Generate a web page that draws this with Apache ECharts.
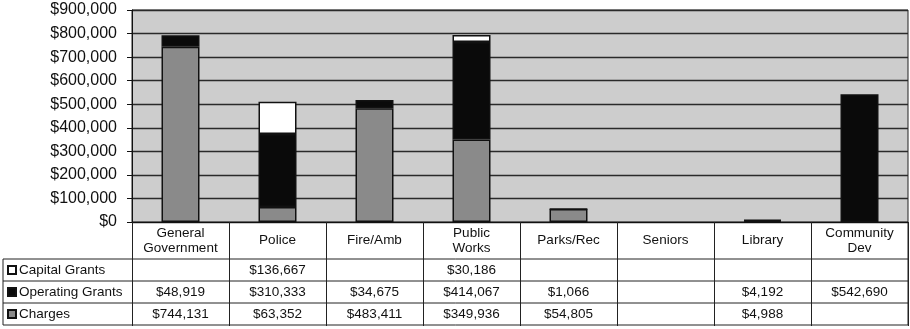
<!DOCTYPE html>
<html><head><meta charset="utf-8">
<script src="https://cdn.jsdelivr.net/npm/echarts@6/dist/echarts.min.js"></script>
<style>html,body{margin:0;padding:0;background:#fff}#c{width:910px;height:329px}</style>
</head><body><div id="c"></div>
<script>
const categories = ['General\nGovernment','Police','Fire/Amb','Public\nWorks','Parks/Rec','Seniors','Library','Community\nDev'];
const capitalGrants = [null,136667,null,30186,null,null,null,null];
const operatingGrants = [48919,310333,34675,414067,1066,null,4192,542690];
const charges = [744131,63352,483411,349936,54805,null,4988,null];
const yTicks = [0,100000,200000,300000,400000,500000,600000,700000,800000,900000];

const FONT = '"Liberation Sans", Arial, sans-serif';
const TFS = 13.5;
const fmt = v => (v == null ? '' : '$' + v.toLocaleString('en-US'));
const G = {left:132, right:2, top:10, bottom:107};
const rowH = 22, headH = 37;

const chart = echarts.init(document.getElementById('c'));
function rowAxis(data, center){
  return {type:'category', data:data.map(fmt), gridIndex:0, position:'bottom',
    axisLine:{show:false}, axisTick:{show:false},
    axisLabel:{interval:0, margin:center, verticalAlign:'middle', fontSize:TFS, fontFamily:FONT, color:'#111'}};
}
const option = {
  animation:false,
  backgroundColor:'#fff',
  grid:{...G, show:true, backgroundColor:'#cdcdcd', borderColor:'#222', borderWidth:1},
  legend:{orient:'vertical', left:7, top:259+rowH/2-7, padding:0, itemWidth:8, itemHeight:8, itemGap:rowH-14,
    icon:'rect', data:['Capital Grants','Operating Grants','Charges'],
    textStyle:{fontFamily:FONT, fontSize:TFS, lineHeight:14, color:'#111', padding:[0,0,0,-2]}},
  xAxis:[
    {type:'category', data:categories, boundaryGap:true,
     axisLine:{lineStyle:{color:'#111', width:1.2}},
     axisTick:{show:true, alignWithLabel:false, length:headH+3*rowH+1, lineStyle:{color:'#222', width:1}},
     axisLabel:{interval:0, margin:headH/2, verticalAlign:'middle', lineHeight:15, fontSize:TFS, fontFamily:FONT, color:'#111'}},
    rowAxis(capitalGrants, headH+rowH*0.5),
    rowAxis(operatingGrants, headH+rowH*1.5),
    rowAxis(charges, headH+rowH*2.5)
  ],
  yAxis:{type:'value', min:0, max:900000, interval:100000,
    axisLine:{show:true, lineStyle:{color:'#111'}},
    axisTick:{show:true, length:5, lineStyle:{color:'#111'}},
    splitLine:{lineStyle:{color:'#2a2a2a', width:1.4}},
    axisLabel:{margin:15, fontSize:16, fontFamily:FONT, color:'#111',
      formatter:v => yTicks.includes(v) ? fmt(v) : ''}},
  series:[
    {name:'Charges', type:'bar', stack:'s', barWidth:38, data:charges,
     itemStyle:{color:'#8a8a8a', borderColor:'#111', borderWidth:1.5}},
    {name:'Operating Grants', type:'bar', stack:'s', barWidth:38, data:operatingGrants,
     itemStyle:{color:'#0a0a0a', borderColor:'#111', borderWidth:1.5}},
    {name:'Capital Grants', type:'bar', stack:'s', barWidth:38, data:capitalGrants,
     itemStyle:{color:'#ffffff', borderColor:'#111', borderWidth:1.5}}
  ]
};
chart.setOption(option);

// table borders derived from grid rect
const rect = chart.getModel().getComponent('grid').coordinateSystem.getRect();
const y0 = rect.y + rect.height;
const xL = 3, xR = rect.x + rect.width;
const lines = [];
const ls = {stroke:'#222', lineWidth:1};
for (let i = 0; i <= 3; i++) {
  const y = y0 + headH + rowH*i;
  lines.push({type:'line', shape:{x1:xL, y1:y, x2:xR, y2:y}, style:ls, silent:true});
}
lines.push({type:'line', shape:{x1:xL, y1:y0+headH, x2:xL, y2:y0+headH+3*rowH}, style:ls});
lines.push({type:'line', shape:{x1:xR, y1:y0, x2:xR, y2:y0+headH+3*rowH}, style:ls});
chart.setOption({graphic:lines});
</script></body></html>
